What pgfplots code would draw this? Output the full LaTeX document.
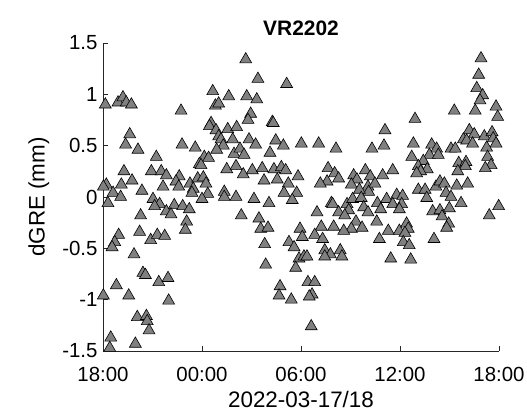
\documentclass[border=0pt]{standalone}
\usepackage{pgfplots}
\pgfplotsset{compat=1.18}
\usepackage{fontspec}
\setmainfont{Liberation Sans}
\definecolor{markgray}{RGB}{128,128,128}
\definecolor{axgray}{RGB}{38,38,38}
\begin{document}
\begin{tikzpicture}
\begin{axis}[
  scale only axis,
  width=396bp, height=308bp,
  xmin=0, xmax=24, ymin=-1.5, ymax=1.5,
  axis x line*=bottom, axis y line*=left,
  axis line style={axgray, line width=0.6pt, -},
  tick style={axgray, line width=0.6pt},
  tick align=inside,
  major tick length=5bp,
  xtick={0,6,12,18,24},
  xticklabels={18:00,00:00,06:00,12:00,18:00},
  ytick={-1.5,-1,-0.5,0,0.5,1,1.5},
  yticklabels={-1.5,-1,-0.5,0,0.5,1,1.5},
  ticklabel style={font=\fontsize{20.5}{20.5}\selectfont, text=black},
  xticklabel style={yshift=-13bp},
  yticklabel style={xshift=-2bp},
  xlabel={2022-03-17/18},
  ylabel={dGRE (mm)},
  label style={font=\fontsize{22.5}{22.5}\selectfont},
  xlabel style={at={(axis description cs:0.5,-0.156)}, anchor=center},
  ylabel style={at={(axis description cs:-0.162,0.5)}, anchor=center},
  title={VR2202},
  title style={font=\fontsize{21}{21}\selectfont\bfseries, at={(axis description cs:0.5,1.028)}, anchor=center},
  clip=false,
]
\addplot[only marks, mark=triangle*, mark size=6.9pt,
  mark options={fill=markgray, draw=black, line width=0.6pt}] table {
x y
0.14 0.90
0.91 0.92
1.21 0.97
1.41 0.92
1.72 0.90
1.62 0.61
1.37 0.51
2.12 0.46
3.23 0.39
1.27 0.25
2.93 0.25
3.53 0.25
3.84 0.21
1.76 0.16
0.20 0.12
0.02 0.10
1.11 0.12
3.64 0.10
0.61 0.04
1.07 0.00
2.36 0.06
0.30 -0.06
3.03 -0.02
3.43 -0.07
3.13 -0.09
3.84 -0.14
2.28 -0.18
0.95 -0.37
0.71 -0.44
0.55 -0.49
2.22 -0.34
2.89 -0.42
3.29 -0.37
3.74 -0.38
1.88 -0.56
2.42 -0.74
2.57 -0.76
3.38 -0.83
3.94 -0.79
0.81 -0.86
0.02 -0.96
1.56 -0.96
3.98 -1.01
2.08 -1.17
2.63 -1.16
2.68 -1.21
2.79 -1.30
0.47 -1.37
0.41 -1.47
1.96 -1.43
6.65 1.03
7.62 0.98
6.81 0.89
7.01 0.91
4.73 0.84
6.55 0.72
6.45 0.69
7.56 0.66
8.10 0.68
6.85 0.65
7.01 0.59
7.15 0.56
7.86 0.56
7.29 0.50
6.89 0.46
7.94 0.42
4.79 0.51
5.59 0.48
6.14 0.39
6.40 0.38
5.84 0.32
5.94 0.31
7.50 0.27
8.06 0.30
4.62 0.20
4.42 0.15
4.59 0.10
5.27 0.13
5.74 0.18
6.08 0.19
5.47 0.08
5.39 0.04
6.24 0.13
6.35 0.03
6.00 -0.02
7.35 0.05
7.35 0.00
8.06 0.00
4.32 -0.08
4.12 -0.17
4.83 -0.09
5.23 -0.12
5.07 -0.24
4.99 -0.32
8.65 1.34
9.39 1.15
11.13 1.10
8.71 0.98
9.32 0.95
8.95 0.81
8.79 0.75
10.26 0.73
10.32 0.72
8.85 0.56
9.25 0.51
8.30 0.47
8.55 0.41
10.47 0.55
10.93 0.50
12.02 0.52
10.12 0.43
8.50 0.22
9.05 0.26
9.65 0.28
10.36 0.27
10.81 0.29
11.07 0.26
9.76 0.16
10.56 0.17
11.23 0.13
11.82 0.20
10.97 0.04
11.74 0.04
11.47 -0.03
9.15 -0.02
10.06 -0.06
8.38 -0.18
9.45 -0.21
9.56 -0.31
10.00 -0.30
9.80 -0.46
9.86 -0.66
11.94 -0.31
12.08 -0.39
11.27 -0.44
11.58 -0.49
11.88 -0.60
12.18 -0.58
11.68 -0.69
10.73 -0.87
10.67 -0.96
11.41 -1.00
13.07 0.52
14.12 0.47
16.30 0.47
13.64 0.28
14.04 0.23
14.28 0.18
13.58 0.15
13.17 0.13
15.19 0.21
15.39 0.17
15.05 0.12
15.90 0.26
16.20 0.20
16.06 0.10
16.10 0.05
15.54 0.07
13.84 -0.06
13.92 -0.07
12.97 -0.15
14.28 -0.15
14.79 -0.07
14.89 -0.13
14.65 -0.18
15.13 -0.02
15.65 -0.01
15.80 -0.10
16.06 -0.15
15.33 -0.24
15.70 -0.30
15.05 -0.31
14.59 -0.33
13.98 -0.29
13.23 -0.29
12.83 -0.37
13.31 -0.41
12.36 -0.58
13.44 -0.52
13.78 -0.56
13.44 -0.58
14.38 -0.52
14.48 -0.58
12.42 -0.83
12.83 -0.83
12.67 -0.95
12.50 -0.97
12.62 -1.26
18.91 0.76
17.09 0.65
17.03 0.50
18.81 0.52
19.92 0.51
20.22 0.47
19.78 0.41
20.32 0.41
18.71 0.39
19.41 0.35
19.11 0.30
19.65 0.27
19.25 0.25
19.01 0.23
17.56 0.26
16.95 0.21
16.48 0.13
19.11 0.07
19.52 0.07
20.18 0.10
20.42 0.15
19.62 -0.01
16.63 -0.06
17.19 -0.02
17.80 0.02
18.16 0.01
17.56 -0.07
18.10 -0.07
16.83 -0.12
17.96 -0.12
19.98 -0.14
20.42 -0.13
16.59 -0.24
17.29 -0.33
17.96 -0.33
18.40 -0.26
18.50 -0.31
18.30 -0.35
16.75 -0.41
18.20 -0.44
18.56 -0.47
20.06 -0.41
17.44 -0.60
18.65 -0.61
22.91 1.35
22.77 1.19
22.65 1.06
23.01 0.99
22.85 0.94
21.29 0.84
22.56 0.84
23.82 0.88
23.92 0.78
22.20 0.65
22.50 0.61
21.84 0.56
22.04 0.55
22.40 0.52
23.11 0.59
23.58 0.63
23.65 0.57
23.82 0.52
23.25 0.48
21.09 0.47
21.35 0.47
23.31 0.39
23.52 0.31
23.17 0.28
21.56 0.33
22.00 0.34
21.96 0.30
21.50 0.25
20.69 0.13
21.44 0.11
22.10 0.13
20.79 0.04
21.09 0.00
21.70 -0.06
20.99 -0.11
20.55 -0.19
23.98 -0.09
23.41 -0.18
20.95 -0.26
20.83 -0.30
};
\coordinate (A) at (rel axis cs:0,0);
\coordinate (B) at (rel axis cs:1,1);
\end{axis}
\pgfresetboundingbox
\path[use as bounding box] ([xshift=-103bp,yshift=-64bp]A) rectangle ([xshift=28bp,yshift=43bp]B);
\end{tikzpicture}
\end{document}
